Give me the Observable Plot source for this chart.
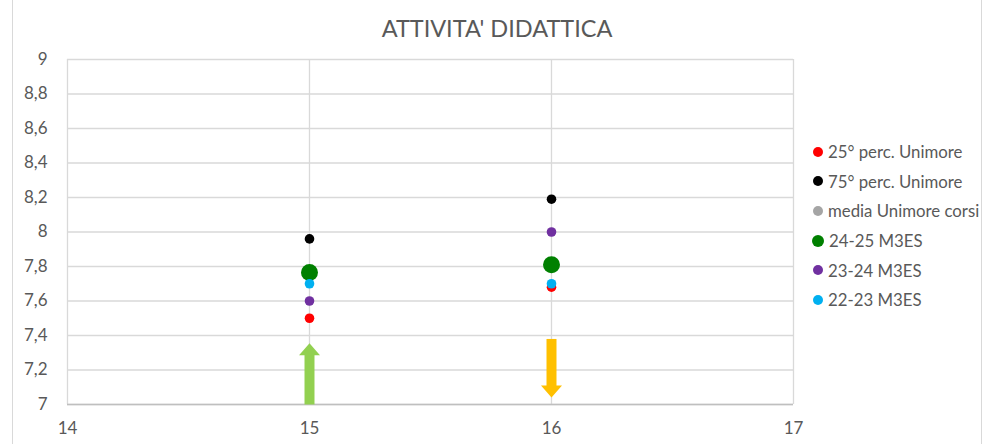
<!DOCTYPE html>
<html>
<head>
<meta charset="utf-8">
<script src="https://cdn.jsdelivr.net/npm/d3@7"></script>
<script src="https://cdn.jsdelivr.net/npm/@observablehq/plot@0.6"></script>
<style>
  html, body { margin: 0; padding: 0; background: #fff; }
  body { width: 984px; height: 444px; overflow: hidden; position: relative; font-family: Lato, "Open Sans", sans-serif; }
  #frame { position: absolute; left: 12px; top: -10px; width: 970px; height: 470px; border: 1px solid #d9d9d9; box-sizing: border-box; }
  #chart { position: absolute; left: 0; top: 0; }
  #title { position: absolute; left: 0; width: 994px; top: 14px; text-align: center; font-size: 23.5px; color: #595959; }
  #legend { position: absolute; left: 813px; top: 137px; font-size: 16.8px; color: #595959; }
  #legend .item { height: 29.6px; display: flex; align-items: center; white-space: nowrap; }
  #legend .sw { display: inline-block; border-radius: 50%; margin-right: 5px; }
</style>
</head>
<body>
<div id="frame"></div>
<div id="chart"></div>
<div id="title"></div>
<div id="legend"></div>
<script>
const titleText = "ATTIVITA' DIDATTICA";
const xCategories = [15, 16];
const xTicks = [14, 15, 16, 17];
const yTicks = [7, 7.2, 7.4, 7.6, 7.8, 8, 8.2, 8.4, 8.6, 8.8, 9];

const seriesNames = ["25° perc. Unimore", "75° perc. Unimore", "media Unimore corsi", "24-25 M3ES", "23-24 M3ES", "22-23 M3ES"];
const seriesColors = ["#FF0000", "#000000", "#A5A5A5", "#008000", "#7030A0", "#00B0F0"];
const seriesRadius = [4.8, 4.8, 4.8, 8.5, 4.8, 4.8];
const legendRadius = [5, 5, 5, 6, 5, 5];

const perc25 = [7.50, 7.68];
const perc75 = [7.96, 8.19];
const mediaUnimore = [7.76, 7.80];
const m3es2425 = [7.765, 7.81];
const m3es2324 = [7.60, 8.00];
const m3es2223 = [7.70, 7.70];
const seriesValues = [perc25, perc75, mediaUnimore, m3es2425, m3es2324, m3es2223];

// block arrows: x, start value, tip value, colour
const arrowX = [15, 16];
const arrowFrom = [7.0, 7.38];
const arrowTo = [7.355, 7.04];
const arrowColors = ["#92D050", "#FFC000"];

const arrows = arrowX.map((x, i) => ({x, from: arrowFrom[i], to: arrowTo[i], color: arrowColors[i], up: arrowTo[i] > arrowFrom[i]}));

const headUp = {draw(ctx) { ctx.moveTo(0, 0); ctx.lineTo(10.5, 12); ctx.lineTo(-10.5, 12); ctx.closePath(); }};
const headDown = {draw(ctx) { ctx.moveTo(0, 0); ctx.lineTo(10.5, -12); ctx.lineTo(-10.5, -12); ctx.closePath(); }};

const fmt = d => d3.format(".1f")(d).replace(".0", "").replace(".", ",");

// one dot mark per series, in series order (later series drawn on top)
const seriesMarks = seriesNames.map((s, i) =>
  Plot.dot(xCategories.map((x, j) => ({x, y: seriesValues[i][j]})),
    {x: "x", y: "y", r: seriesRadius[i], fill: seriesColors[i], stroke: "none"})
);

const chart = Plot.plot({
  width: 984,
  height: 444,
  marginLeft: 67,
  marginRight: 191,
  marginTop: 59,
  marginBottom: 40,
  style: {fontFamily: "Lato, 'Open Sans', sans-serif", background: "transparent"},
  x: {domain: [14, 17]},
  y: {domain: [7, 9]},
  marks: [
    Plot.gridY(yTicks, {stroke: "#d9d9d9", strokeOpacity: 1, strokeWidth: 1.3}),
    Plot.gridX(xCategories, {stroke: "#d9d9d9", strokeOpacity: 1, strokeWidth: 1.3}),
    Plot.ruleX([14, 17], {stroke: "#d9d9d9", strokeWidth: 1.3}),
    Plot.ruleY([7], {stroke: "#bfbfbf", strokeWidth: 1.5}),
    Plot.axisY(yTicks, {tickSize: 0, tickPadding: 20, tickFormat: fmt, fontSize: 17, fill: "#595959", label: null}),
    Plot.axisX(xTicks, {tickSize: 0, tickPadding: 17, tickFormat: d => String(d), fontSize: 17, fill: "#595959", label: null}),
    Plot.arrow(arrows, {x1: "x", y1: "from", x2: "x", y2: "to", stroke: d => d.color, strokeWidth: 10, headLength: 0, insetEnd: 11, strokeLinecap: "butt"}),
    Plot.dot(arrows.filter(d => d.up), {x: "x", y: "to", symbol: headUp, fill: d => d.color, r: 5, stroke: "none"}),
    Plot.dot(arrows.filter(d => !d.up), {x: "x", y: "to", symbol: headDown, fill: d => d.color, r: 5, stroke: "none"}),
    ...seriesMarks
  ]
});
document.getElementById("chart").appendChild(chart);

document.getElementById("title").textContent = titleText;
const legend = document.getElementById("legend");
seriesNames.forEach((s, i) => {
  const item = document.createElement("div");
  item.className = "item";
  const sw = document.createElement("span");
  sw.className = "sw";
  const d = legendRadius[i] * 2;
  sw.style.width = d + "px";
  sw.style.height = d + "px";
  sw.style.background = seriesColors[i];
  if (legendRadius[i] > 5) sw.style.marginLeft = "-1px";
  item.appendChild(sw);
  item.appendChild(document.createTextNode(s));
  legend.appendChild(item);
});
</script>
</body>
</html>
